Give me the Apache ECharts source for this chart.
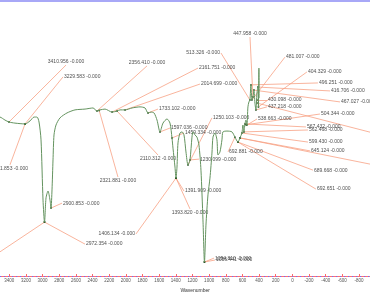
<!DOCTYPE html>
<html><head><meta charset="utf-8">
<script src="https://cdn.jsdelivr.net/npm/echarts@6/dist/echarts.min.js"></script>
<style>html,body{margin:0;padding:0;background:#fff}#c{width:370px;height:292px}</style>
</head><body><div id="c"></div>
<script>
// Spectrum (wavenumber, cm-1) and signal (arbitrary units)
const wavenumbers = [4000,3750,3512,3452,3404,3332,3211,3151,3103,3067,3043,3019,2995,2977,2959,2935,2911,2899,2887,2875,2863,2839,2791,2707,2611,2490,2395,2347,2311,2250,2166,2106,2070,2010,1926,1830,1770,1734,1698,1662,1626,1590,1554,1506,1470,1446,1434,1410,1398,1386,1374,1350,1326,1302,1278,1254,1230,1206,1194,1170,1146,1122,1098,1074,1056,1038,1014,990,966,954,930,906,894,870,846,834,786,726,690,654,630,606,594,582,570,558,546,534,522,510,498,486,474,462,450,438,426,414,408,402,400];
const signal = [59.6,58.9,57.8,56.7,56.0,55.6,55.3,56.4,57.8,57.8,56.0,49.5,27.6,19.6,28.4,30.9,27.6,24.7,31.3,42.2,51.3,54.9,57.5,59.3,60.4,60.7,61.1,60.0,60.4,60.7,59.6,60.0,60.4,60.4,61.1,61.5,61.1,59.3,59.6,59.3,56.7,52.4,55.6,57.1,55.6,50.2,46.5,39.6,35.6,39.6,48.4,52.0,52.4,51.3,45.1,40.4,42.2,50.5,52.4,51.3,50.5,47.6,38.5,20.4,5.1,18.5,29.5,35.6,44.7,50.5,52.0,49.5,44.0,45.1,49.5,52.4,52.7,52.4,50.5,48.7,50.2,52.0,54.9,52.4,55.3,56.7,54.9,61.5,63.3,64.0,69.5,64.0,65.1,67.6,62.9,60.4,66.5,68.7,61.5,75.6,64.7];

// Peak annotations
const peakLabels = ["3410.956 -0.000","3229.583 -0.000","3211.853 -0.000","2972.354 -0.000","2975.062 -0.000","2900.853 -0.000","2356.410 -0.000","2321.881 -0.000","2161.751 -0.000","2014.699 -0.000","2110.312 -0.000","1733.102 -0.000","1597.036 -0.000","1459.334 -0.000","1406.134 -0.000","1391.909 -0.000","1393.820 -0.000","1250.103 -0.000","1230.099 -0.000","1054.810 -0.000","1056.441 -0.000","692.881 -0.000","692.651 -0.000","689.668 -0.000","645.124 -0.000","599.430 -0.000","567.432 -0.000","562.468 -0.000","538.663 -0.000","504.344 -0.000","467.027 -0.000","416.706 -0.000","496.251 -0.000","404.329 -0.000","481.007 -0.000","447.958 -0.000","513.326 -0.000","430.098 -0.000","437.218 -0.000","426.873 -0.000","632.504 -0.000"];
const peakWavenumbers = [3404,3211,3211,2977,2977,2899,2347,2321,2166,2010,2106,1734,1590,1446,1398,1398,1398,1254,1230,1056,1056,690,654,654,630,606,570,582,546,558,462,414,498,408,486,474,510,426,438,426,630];
const peakValues = [56.0,55.3,55.3,19.6,19.6,24.7,60.0,60.2,59.6,60.4,60.0,59.3,52.4,50.2,35.6,35.6,35.6,40.4,42.2,5.1,5.1,50.5,48.7,48.7,50.2,52.0,55.3,52.4,54.9,55.0,67.6,68.7,69.5,61.5,64.0,65.1,64.0,64.0,60.4,62.9,50.2];
// Where each annotation's text sits (data units)
const labelWavenumbers = [2719,2755,3392,2491,3872,2767,1746,2095,1134,1110,1614,1614,1470,1302,1878,1302,1230,966,1122,942,930,773,-283,-247,-211,-187,-163,-187,425,-331,-572,-452,-307,-175,89,509,858,305,305,-1292,-1292];
const labelValues = [76.7,72.4,40.4,11.6,1.5,26.5,76.4,36.0,75.6,69.8,44.0,60.7,53.8,52.0,15.3,30.9,24.4,57.5,42.5,6.5,5.8,45.1,31.6,38.5,45.5,48.7,54.2,53.1,57.1,58.9,63.3,67.3,70.2,74.2,79.6,86.9,81.1,64.0,61.5,49.5,38.5];
const labelSides = ["top","right","bottom","right","left","right","top","bottom","right","right","bottom","right","right","right","left","right","bottom","right","right","right","right","right","right","right","right","right","right","right","right","right","right","right","right","right","right","top","left","right","right","right","right"];

const FONT = '"Liberation Sans", Arial, sans-serif';
const chart = echarts.init(document.getElementById('c'), null, {renderer: 'canvas'});
const spectrum = wavenumbers.map((w, i) => [w, signal[i]]);
const peaks = peakWavenumbers.map((w, i) => [w, peakValues[i]]);
const connectors = peakLabels.map((t, i) => ({coords: [[peakWavenumbers[i], peakValues[i]], [labelWavenumbers[i], labelValues[i]]]}));
const labelPts = peakLabels.map((t, i) => ({value: [labelWavenumbers[i], labelValues[i]], name: t, label: {position: labelSides[i]}}));

const axisBase = {type: 'value', inverse: true, min: -1000, max: 3600, interval: 200, splitLine: {show: false}};
chart.setOption({
  animation: false,
  grid: {left: -7.35, right: -5.65, top: 1, bottom: 16, containLabel: false, outerBoundsMode: 'none'},
  xAxis: [
    Object.assign({}, axisBase, {
      position: 'bottom',
      axisLine: {show: true, onZero: false, lineStyle: {color: '#6f6fff', width: 1}},
      axisTick: {show: true, inside: true, length: 2, lineStyle: {color: '#ff6a6a'}},
      axisLabel: {fontSize: 4.5, color: '#555', margin: 2, fontFamily: FONT, formatter: v => String(v)},
      name: 'Wavenumber', nameLocation: 'middle', nameGap: 10,
      nameTextStyle: {fontSize: 5, color: '#333', fontFamily: FONT, padding: [0, 0, 0, 22]}
    }),
    Object.assign({}, axisBase, {
      position: 'top',
      axisLine: {show: true, onZero: false, lineStyle: {color: '#8b8bf5', width: 1.5}},
      axisTick: {show: false}, axisLabel: {show: false}
    }),
    Object.assign({}, axisBase, {
      position: 'bottom',
      axisLine: {show: true, onZero: false, lineStyle: {color: '#ff7070', type: [2, 2], width: 1}},
      axisTick: {show: false}, axisLabel: {show: false}
    })
  ],
  yAxis: {type: 'value', min: 0, max: 100, show: false},
  series: [
    {type: 'lines', coordinateSystem: 'cartesian2d', data: connectors, silent: true,
     lineStyle: {color: '#f7a184', width: 0.8, opacity: 1}},
    {type: 'line', data: spectrum, showSymbol: false, smooth: 0.25, silent: true,
     lineStyle: {color: '#64935f', width: 1}},
    {type: 'scatter', data: peaks, symbolSize: 2, itemStyle: {color: '#1e4d1e'}, silent: true},
    {type: 'scatter', data: labelPts, symbolSize: 0, silent: true,
     label: {show: true, formatter: p => p.name, fontSize: 5, color: '#222', distance: 1, fontFamily: FONT}}
  ]
});
</script></body></html>
